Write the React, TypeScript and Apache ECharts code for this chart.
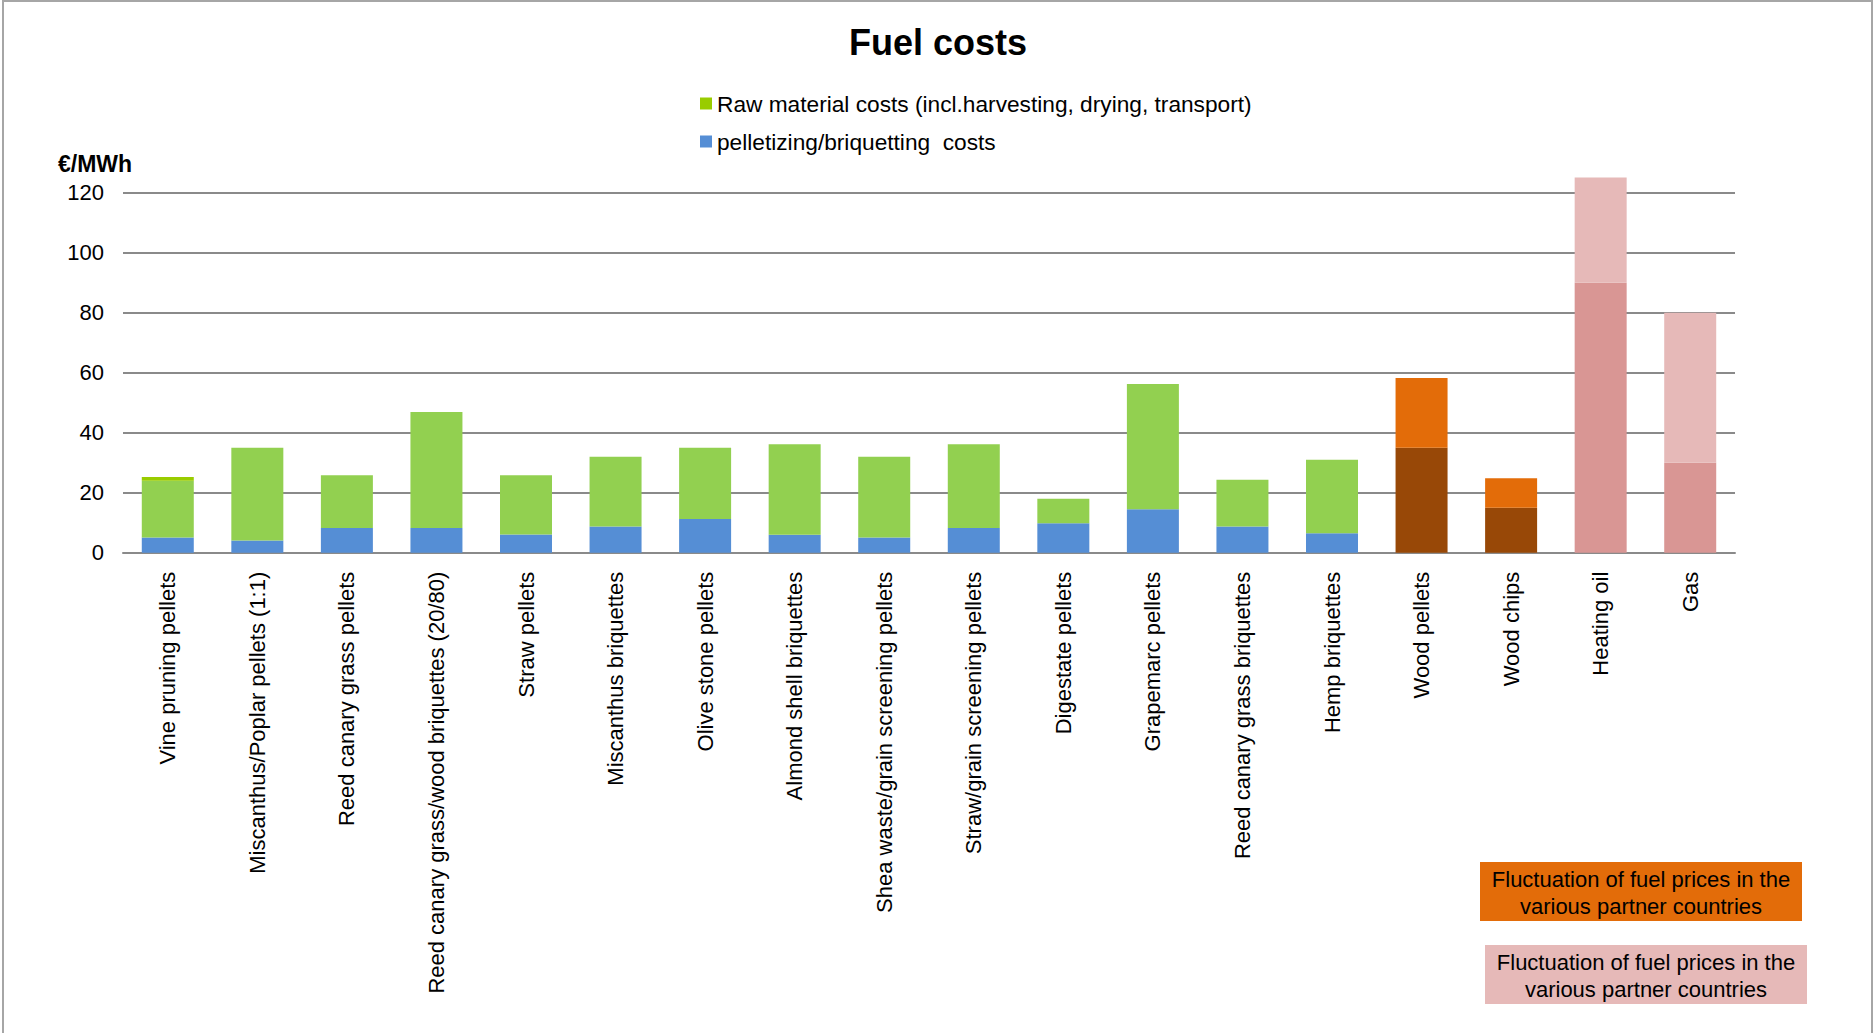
import React, { useEffect, useRef } from "react";
import * as echarts from "echarts";

const categories = [
  "Vine pruning pellets",
  "Miscanthus/Poplar pellets (1:1)",
  "Reed canary grass pellets",
  "Reed canary grass/wood briquettes (20/80)",
  "Straw pellets",
  "Miscanthus briquettes",
  "Olive stone pellets",
  "Almond shell briquettes",
  "Shea waste/grain screening pellets",
  "Straw/grain screening pellets",
  "Digestate pellets",
  "Grapemarc pellets",
  "Reed canary grass briquettes",
  "Hemp briquettes",
  "Wood pellets",
  "Wood chips",
  "Heating oil",
  "Gas",
];

const pelletizingCosts = [5.1, 4.1, 8.2, 8.2, 6.1, 8.7, 11.2, 6.0, 5.1, 8.2, 9.8, 14.5, 8.7, 6.5, 0, 0, 0, 0];
const rawMaterialCosts = [18.9, 30.9, 17.6, 38.7, 19.7, 23.3, 23.8, 30.1, 26.9, 27.9, 8.2, 41.7, 15.6, 24.5, 0, 0, 0, 0];
const rawMaterialTop = [1.2, 0, 0, 0, 0, 0, 0, 0, 0, 0, 0, 0, 0, 0, 0, 0, 0, 0];
const woodFuelBase = [0, 0, 0, 0, 0, 0, 0, 0, 0, 0, 0, 0, 0, 0, 35, 15, 0, 0];
const woodFuelFluct = [0, 0, 0, 0, 0, 0, 0, 0, 0, 0, 0, 0, 0, 0, 23.2, 9.8, 0, 0];
const fossilBase = [0, 0, 0, 0, 0, 0, 0, 0, 0, 0, 0, 0, 0, 0, 0, 0, 90, 30];
const fossilFluct = [0, 0, 0, 0, 0, 0, 0, 0, 0, 0, 0, 0, 0, 0, 0, 0, 35, 50];

const yTicks = { min: 0, max: 120, interval: 20 };

const RAW_NAME = "Raw material costs (incl.harvesting, drying, transport)";
const PEL_NAME = "pelletizing/briquetting  costs";
const FONT = "'Liberation Sans', Arial, sans-serif";

export default function App() {
  const ref = useRef<HTMLDivElement>(null);
  useEffect(() => {
    if (!ref.current) return;
    const chart = echarts.init(ref.current, null, { renderer: "svg" });
    const barBase = { type: "bar", stack: "total", barWidth: 52, clip: false };
    const boxText = "Fluctuation of fuel prices in the\nvarious partner countries";
    chart.setOption({
      animation: false,
      backgroundColor: "#ffffff",
      textStyle: { fontFamily: FONT },
      title: {
        text: "Fuel costs",
        left: "center",
        top: 19,
        textStyle: { fontSize: 36, fontWeight: "bold", color: "#000", fontFamily: FONT },
      },
      legend: {
        orient: "vertical",
        left: 700,
        top: 92,
        padding: 0,
        itemGap: 15,
        itemWidth: 12,
        itemHeight: 12,
        icon: "rect",
        textStyle: { fontSize: 22.7, color: "#000", fontFamily: FONT },
        data: [
          { name: RAW_NAME, itemStyle: { color: "#99cc00" } },
          { name: PEL_NAME, itemStyle: { color: "#558ed5" } },
        ],
      },
      grid: { left: 123, right: 141, top: 192.6, bottom: 480.3, containLabel: false },
      xAxis: {
        type: "category",
        data: categories,
        axisTick: { show: false },
        axisLine: { lineStyle: { color: "#8a8a8a", width: 2 } },
        axisLabel: { interval: 0, rotate: 90, margin: 19, fontSize: 22, color: "#000", fontFamily: FONT },
      },
      yAxis: {
        type: "value",
        min: yTicks.min,
        max: yTicks.max,
        interval: yTicks.interval,
        axisLine: { show: false },
        axisTick: { show: false },
        axisLabel: { margin: 19, fontSize: 22, color: "#000", fontFamily: FONT },
        splitLine: { lineStyle: { color: "#8a8a8a", width: 2 } },
      },
      series: [
        { ...barBase, name: PEL_NAME, data: pelletizingCosts, itemStyle: { color: "#558ed5" } },
        { ...barBase, name: "raw", data: rawMaterialCosts, itemStyle: { color: "#92d050" } },
        { ...barBase, name: RAW_NAME, data: rawMaterialTop, itemStyle: { color: "#99cc00" } },
        { ...barBase, name: "woodBase", data: woodFuelBase, itemStyle: { color: "#984807" } },
        { ...barBase, name: "woodFluct", data: woodFuelFluct, itemStyle: { color: "#e36c09" } },
        { ...barBase, name: "fossilBase", data: fossilBase, itemStyle: { color: "#d99694" } },
        { ...barBase, name: "fossilFluct", data: fossilFluct, itemStyle: { color: "#e6b9b8" } },
      ],
      graphic: [
        {
          type: "rect",
          z: -10,
          silent: true,
          shape: { x: 3, y: 1, width: 1869, height: 1045 },
          style: { fill: "none", stroke: "#a6a6a6", lineWidth: 2 },
        },
        {
          type: "text",
          x: 58,
          y: 164,
          style: { text: "€/MWh", font: `bold 23px ${FONT}`, fill: "#000", verticalAlign: "middle", align: "left" },
        },
        {
          type: "rect",
          shape: { x: 1480, y: 862, width: 322, height: 59 },
          style: { fill: "#e36c09" },
        },
        {
          type: "text",
          x: 1641,
          y: 893,
          style: { text: boxText, font: `22px ${FONT}`, fill: "#000", align: "center", verticalAlign: "middle", lineHeight: 27 },
        },
        {
          type: "rect",
          shape: { x: 1485, y: 945, width: 322, height: 59 },
          style: { fill: "#e6b9b8" },
        },
        {
          type: "text",
          x: 1646,
          y: 976,
          style: { text: boxText, font: `22px ${FONT}`, fill: "#000", align: "center", verticalAlign: "middle", lineHeight: 27 },
        },
      ],
    });
    return () => chart.dispose();
  }, []);
  return (
    <div
      ref={ref}
      style={{ position: "fixed", left: 0, top: 0, width: 1876, height: 1033, background: "#fff" }}
    />
  );
}
